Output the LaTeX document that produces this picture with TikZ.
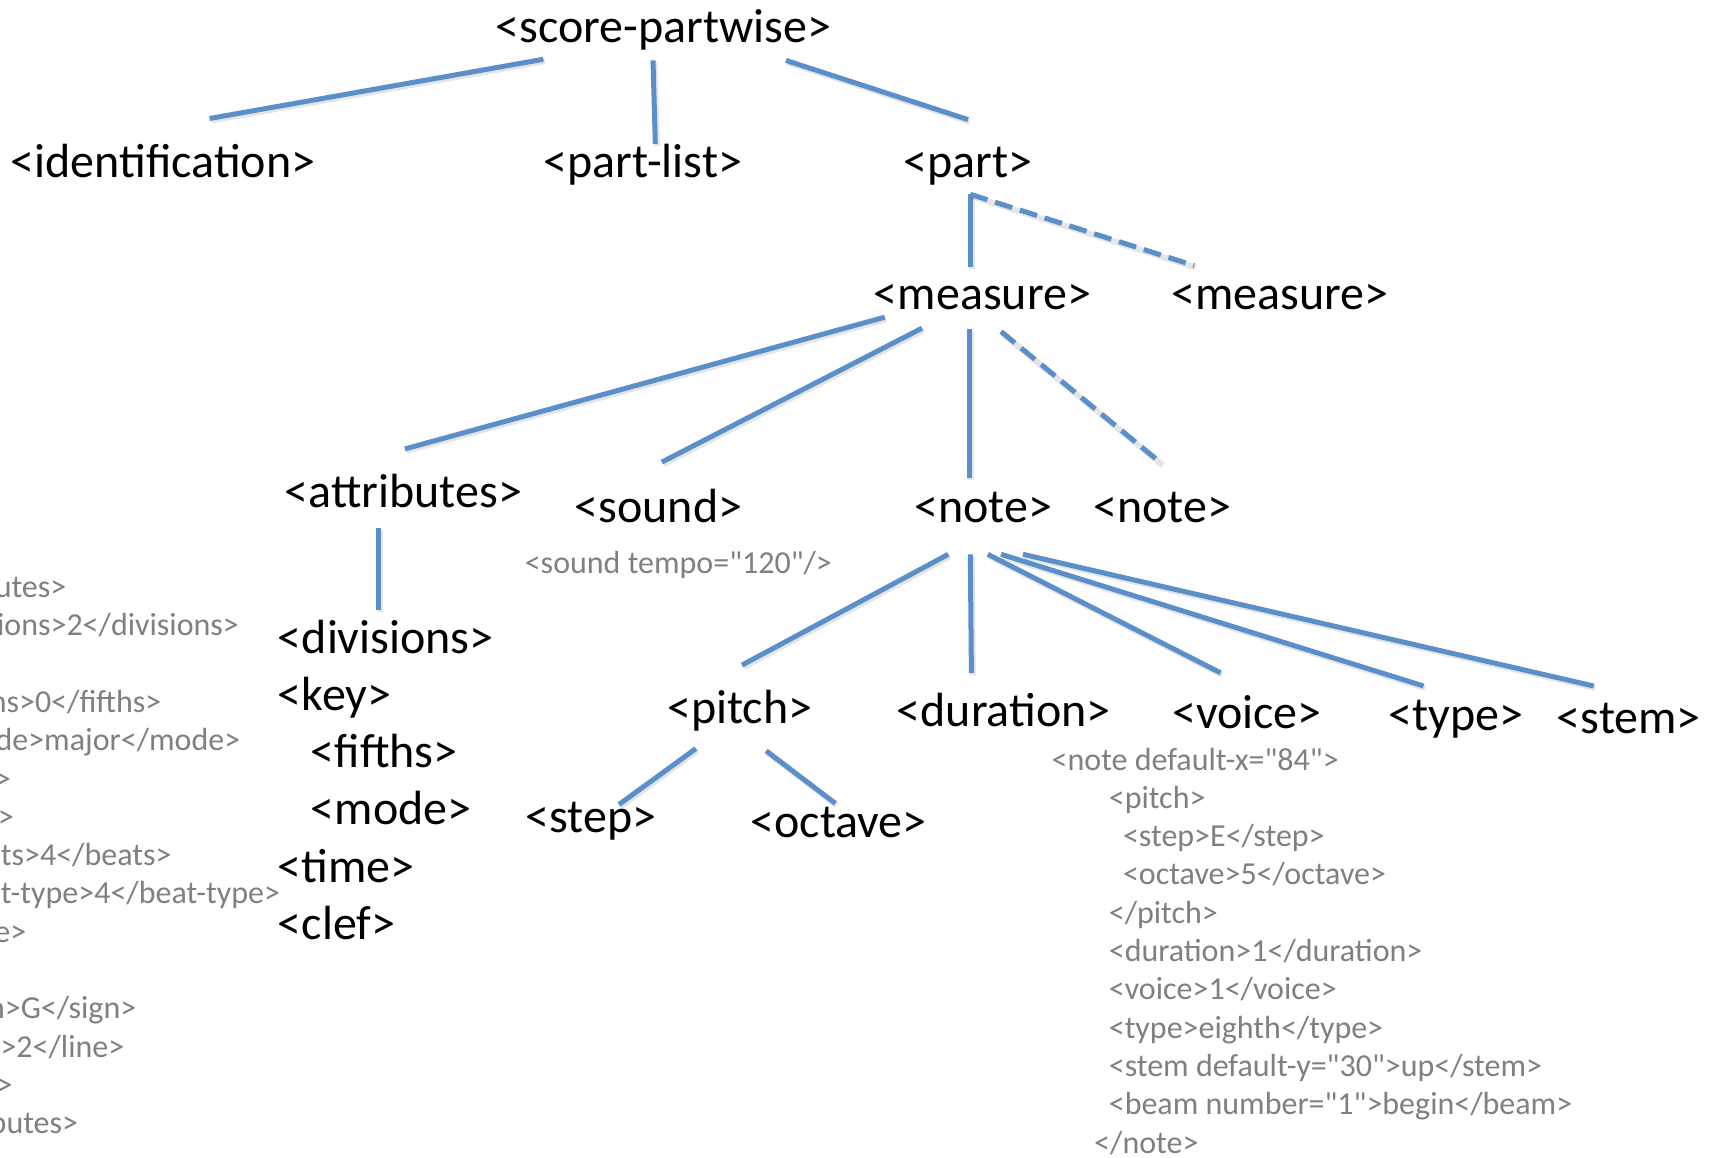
\documentclass[tikz,border=0pt]{standalone}
\usepackage{fontspec}
\setmainfont{Carlito}[Ligatures=TeXOff]
\definecolor{linkblue}{HTML}{5B8FC9}
\definecolor{codegray}{HTML}{808080}
\tikzset{
  lbl/.style={inner sep=0pt, anchor=base, font=\fontsize{48}{57.6}\selectfont, text=black},
  lblw/.style={inner sep=0pt, anchor=base west, font=\fontsize{48}{57.6}\selectfont, text=black},
  code/.style={inner sep=0pt, anchor=base west, font=\fontsize{32}{38.4}\selectfont, text=codegray},
  conn/.style={draw=linkblue, line width=5pt,
    preaction={draw=black, draw opacity=0.1, line width=6pt,
      transform canvas={xshift=1.5pt,yshift=-2pt}}},
  dconn/.style={conn, dash pattern=on 18pt off 8pt},
}
\begin{document}
\begin{tikzpicture}[x=1pt,y=-1pt]
\useasboundingbox (0,0) rectangle (1721,1158);
\clip (0,0) rectangle (1721,1158);
\fill[white] (0,0) rectangle (1721,1158);

% main labels
\node[lbl] (score) at (663.5,43) {<score-partwise>};
\node[lbl] (ident) at (163,178) {<identification>};
\node[lbl] (plist) at (643,178) {<part-list>};
\node[lbl] (part) at (968,178) {<part>};
\node[lbl] (meas1) at (982.4,309) {<measure>};
\node[lbl] (meas2) at (1280,309) {<measure>};
\node[lbl] (attr) at (403.4,507) {<attributes>};
\node[lbl] (sound) at (658.6,522) {<sound>};
\node[lbl] (note1) at (983,522) {<note>};
\node[lbl] (note2) at (1162,522) {<note>};
\node[lbl] (pitch) at (739.8,723) {<pitch>};
\node[lbl] (dur) at (1003.7,726) {<duration>};
\node[lbl] (voice) at (1246.9,728) {<voice>};
\node[lbl] (type) at (1456,730) {<type>};
\node[lbl] (stem) at (1628.8,733) {<stem>};
\node[lbl] (step) at (591,832) {<step>};
\node[lbl] (oct) at (838.6,837) {<octave>};

% attributes children
\node[lblw] (ac1) at (277.7,653.0) {<divisions>};
\node[lblw] (ac2) at (277.7,710.3) {<key>};
\node[lblw] (ac3) at (310.6,767.6) {<fifths>};
\node[lblw] (ac4) at (310.6,824.9) {<mode>};
\node[lblw] (ac5) at (277.7,882.2) {<time>};
\node[lblw] (ac6) at (277.7,939.5) {<clef>};

% sound code
\node[code] (sndcode) at (524.6,573) {<sound tempo="120"/>};

% left code block (clipped by the page edge)
\node[code] (lc1) at (-92,597.5) {<attributes>};
\node[code] (lc2) at (-77.5,635.8) {<divisions>2</divisions>};
\node[code] (lc3) at (-77.5,674.1) {<key>};
\node[code] (lc4) at (-63,712.4) {<fifths>0</fifths>};
\node[code] (lc5) at (-63,750.7) {<mode>major</mode>};
\node[code] (lc6) at (-77.5,789.0) {</key>};
\node[code] (lc7) at (-77.5,827.3) {<time>};
\node[code] (lc8) at (-63,865.6) {<beats>4</beats>};
\node[code] (lc9) at (-63,903.9) {<beat-type>4</beat-type>};
\node[code] (lc10) at (-77.5,942.2) {</time>};
\node[code] (lc11) at (-77.5,980.5) {<clef>};
\node[code] (lc12) at (-63,1018.8) {<sign>G</sign>};
\node[code] (lc13) at (-63,1057.1) {<line>2</line>};
\node[code] (lc14) at (-77.5,1095.4) {</clef>};
\node[code] (lc15) at (-92,1133.7) {</attributes>};

% note code block
\node[code] (nc1) at (1051.5,770.0) {<note default-x="84">};
\node[code] (nc2) at (1108.6,808.3) {<pitch>};
\node[code] (nc3) at (1122.8,846.6) {<step>E</step>};
\node[code] (nc4) at (1122.8,884.9) {<octave>5</octave>};
\node[code] (nc5) at (1108.6,923.2) {</pitch>};
\node[code] (nc6) at (1108.6,961.5) {<duration>1</duration>};
\node[code] (nc7) at (1108.6,999.8) {<voice>1</voice>};
\node[code] (nc8) at (1108.6,1038.1) {<type>eighth</type>};
\node[code] (nc9) at (1108.6,1076.4) {<stem default-y="30">up</stem>};
\node[code] (nc10) at (1108.6,1114.7) {<beam number="1">begin</beam>};
\node[code] (nc11) at (1094,1153.0) {</note>};

% connector end points
\coordinate (s-i0) at (543.3,59.3);   \coordinate (s-i1) at (209.6,118.5);
\coordinate (s-l0) at (653,60.4);     \coordinate (s-l1) at (655.3,143.8);
\coordinate (s-p0) at (785.9,60.4);   \coordinate (s-p1) at (968,119.6);
\coordinate (p-0) at (970.3,194.3);
\coordinate (p-m1) at (970.3,266.7);
\coordinate (p-m2) at (1194.2,265.6);
\coordinate (m-a0) at (884.7,317.2);  \coordinate (m-a1) at (405,448.9);
\coordinate (m-s0) at (922,328.2);    \coordinate (m-s1) at (661.8,462.1);
\coordinate (m-n0) at (969.2,329.3);  \coordinate (m-n1) at (969.2,477.5);
\coordinate (m-d0) at (1001,331.5);   \coordinate (m-d1) at (1161.2,463.2);
\coordinate (a-c0) at (378.7,528);    \coordinate (a-c1) at (378.7,610.3);
\coordinate (n-p0) at (948.3,554.3);  \coordinate (n-p1) at (742,665.1);
\coordinate (n-d0) at (970.3,554.3);  \coordinate (n-d1) at (971.4,672.8);
\coordinate (n-v0) at (987.8,554.3);  \coordinate (n-v1) at (1220.5,672.8);
\coordinate (n-t0) at (1001,554.3);   \coordinate (n-t1) at (1423.6,686);
\coordinate (n-s0) at (1023,554.3);   \coordinate (n-s1) at (1593.7,686);
\coordinate (pi-s0) at (695.9,748.6); \coordinate (pi-s1) at (619,804.5);
\coordinate (pi-o0) at (766.1,750.8); \coordinate (pi-o1) at (835.3,803.4);

\draw[conn] (s-i0) -- (s-i1);
\draw[conn] (s-l0) -- (s-l1);
\draw[conn] (s-p0) -- (s-p1);
\draw[conn] (p-0) -- (p-m1);
\draw[dconn] (p-0) -- (p-m2);
\draw[conn] (m-a0) -- (m-a1);
\draw[conn] (m-s0) -- (m-s1);
\draw[conn] (m-n0) -- (m-n1);
\draw[dconn] (m-d0) -- (m-d1);
\draw[conn] (a-c0) -- (a-c1);
\draw[conn] (n-p0) -- (n-p1);
\draw[conn] (n-d0) -- (n-d1);
\draw[conn] (n-v0) -- (n-v1);
\draw[conn] (n-t0) -- (n-t1);
\draw[conn] (n-s0) -- (n-s1);
\draw[conn] (pi-s0) -- (pi-s1);
\draw[conn] (pi-o0) -- (pi-o1);
\end{tikzpicture}
\end{document}
